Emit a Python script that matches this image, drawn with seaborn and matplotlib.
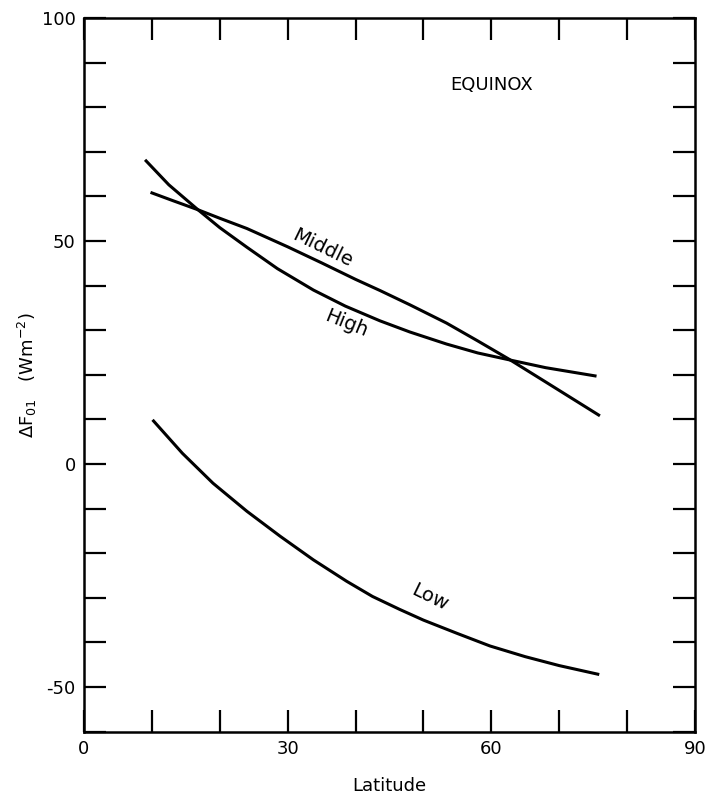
import numpy as np
import pandas as pd
import seaborn as sns
import matplotlib.pyplot as plt

# values (latitude, delta F01 in W m-2)
high_lat = [9.0, 12.5, 16.8, 20.0, 24.0, 28.5, 33.8, 38.5, 43.6, 48.0, 53.4, 58.0, 62.5, 68.0, 75.5]
high_val = [68.2, 62.6, 57.0, 53.0, 48.6, 43.8, 39.0, 35.4, 32.1, 29.6, 26.9, 24.9, 23.4, 21.6, 19.7]

mid_lat = [9.8, 13.0, 16.8, 20.0, 24.0, 30.0, 35.0, 40.0, 43.6, 48.0, 53.4, 58.0, 62.5, 68.0, 76.0]
mid_val = [60.9, 59.1, 57.0, 55.1, 52.8, 48.7, 45.1, 41.4, 38.9, 35.7, 31.6, 27.6, 23.6, 18.4, 10.8]

low_lat = [10.1, 14.5, 19.0, 24.0, 28.9, 33.8, 38.7, 42.5, 46.5, 50.0, 55.0, 59.8, 65.0, 70.0, 75.9]
low_val = [9.9, 2.4, -4.3, -10.6, -16.2, -21.5, -26.3, -29.7, -32.6, -35.0, -38.0, -40.8, -43.2, -45.2, -47.2]

series = ["High", "Middle", "Low"]

frames = []
for name, xs, ys in zip(series, [high_lat, mid_lat, low_lat], [high_val, mid_val, low_val]):
    frames.append(pd.DataFrame({"lat": xs, "dF": ys, "band": name}))
df = pd.concat(frames, ignore_index=True)

sns.set_style("ticks")
plt.rcParams['font.family'] = ['DejaVu Sans']
plt.rcParams['text.color'] = 'black'
plt.rcParams['axes.labelcolor'] = 'black'

fig = plt.figure(figsize=(7.08, 8.0), dpi=100)
ax = fig.add_axes([0.1186, 0.0855, 0.863, 0.892])

sns.lineplot(data=df, x="lat", y="dF", units="band", estimator=None, sort=True,
             color="black", linewidth=2.2, ax=ax,
             solid_joinstyle="round", solid_capstyle="butt")

ax.set_xlim(0, 90)
ax.set_ylim(-60, 100)

xt = np.arange(0, 91, 10)
ax.set_xticks(xt)
ax.set_xticklabels([str(v) if v % 30 == 0 else "" for v in xt])
yt = np.arange(-60, 101, 10)
ax.set_yticks(yt)
ax.set_yticklabels([str(v) if v % 50 == 0 else "" for v in yt])

ax.tick_params(direction="in", length=16, width=1.6, top=True, right=True,
               labelsize=13, colors="black", pad=6)
for s in ax.spines.values():
    s.set_linewidth(1.8)
    s.set_color("black")

ax.set_xlabel("Latitude", fontsize=13, labelpad=14)
ax.set_ylabel(r"$\Delta$F$_{01}$   (Wm$^{-2}$)", fontsize=13, labelpad=2)

ax.text(60, 85, "EQUINOX", fontsize=13, ha="center", va="center")
ax.text(35.2, 48.4, "Middle", fontsize=14, ha="center", va="center", rotation=-26)
ax.text(38.6, 31.4, "High", fontsize=14, ha="center", va="center", rotation=-22)
ax.text(51.0, -30.0, "Low", fontsize=14, ha="center", va="center", rotation=-26)

fig.savefig("out.png", dpi=100)
